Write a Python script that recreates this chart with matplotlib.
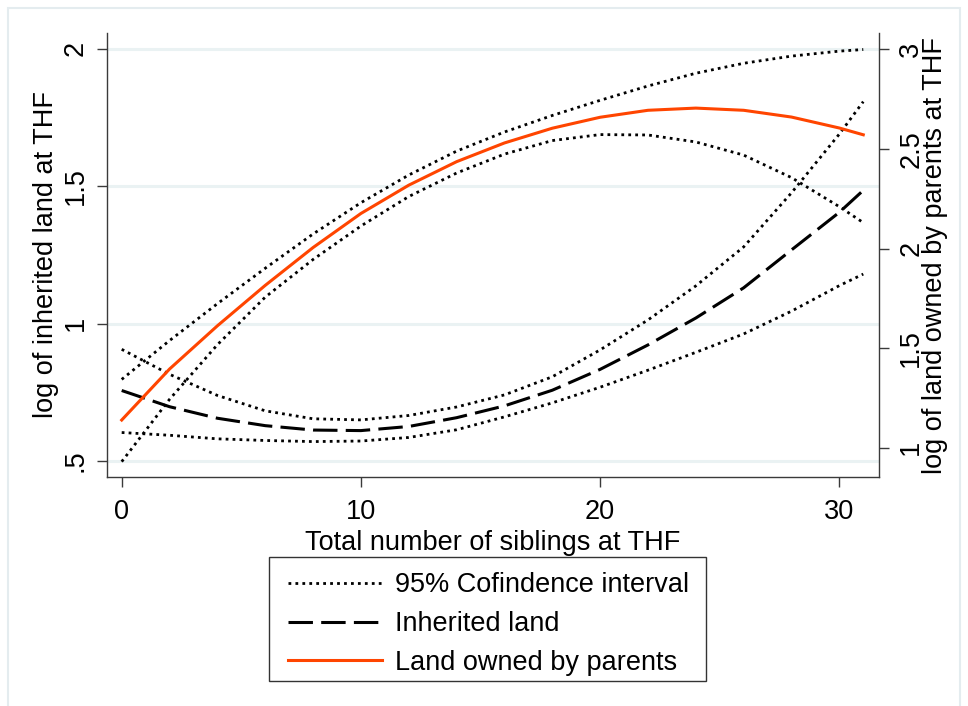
import matplotlib
matplotlib.use('Agg')
import matplotlib.pyplot as plt
from matplotlib.patches import Rectangle

plt.rcParams['font.family'] = ['Liberation Sans', 'DejaVu Sans']

# ---- data ----
siblings = [0, 2, 4, 6, 8, 10, 12, 14, 16, 18, 20, 22, 24, 26, 28, 30, 31]

inherited = [0.756, 0.697, 0.655, 0.628, 0.612, 0.610, 0.625, 0.657, 0.700,
             0.757, 0.833, 0.922, 1.020, 1.130, 1.268, 1.405, 1.485]
inherited_hi = [0.906, 0.815, 0.738, 0.682, 0.653, 0.649, 0.665, 0.696, 0.740,
                0.806, 0.904, 1.013, 1.137, 1.279, 1.476, 1.690, 1.808]
inherited_lo = [0.603, 0.593, 0.580, 0.574, 0.570, 0.572, 0.585, 0.613, 0.660,
                0.711, 0.768, 0.830, 0.895, 0.962, 1.045, 1.138, 1.180]

parents = [1.139, 1.395, 1.612, 1.815, 2.005, 2.176, 2.318, 2.436, 2.530,
           2.604, 2.659, 2.694, 2.705, 2.694, 2.660, 2.605, 2.571]
parents_hi = [1.343, 1.538, 1.723, 1.901, 2.073, 2.230, 2.369, 2.489, 2.585,
              2.668, 2.744, 2.816, 2.880, 2.930, 2.966, 2.991, 2.999]
parents_lo = [0.930, 1.243, 1.517, 1.756, 1.945, 2.113, 2.261, 2.379, 2.474,
              2.542, 2.572, 2.570, 2.535, 2.469, 2.356, 2.210, 2.130]

x_ticks = [0, 10, 20, 30]
x_ticklabels = ['0', '10', '20', '30']
left_ticks = [0.5, 1.0, 1.5, 2.0]
left_ticklabels = ['.5', '1', '1.5', '2']
right_ticks = [1.0, 1.5, 2.0, 2.5, 3.0]
right_ticklabels = ['1', '1.5', '2', '2.5', '3']

legend_labels = ['95% Cofindence interval', 'Inherited land', 'Land owned by parents']

# ---- figure ----
W, H = 968, 706
fig = plt.figure(figsize=(W / 100, H / 100), dpi=100)
fig.patch.set_facecolor('white')

# light outer frame (Stata graph region)
fig.add_artist(Rectangle((8 / W, -0.05), (960 - 8) / W, 1.05 - 8 / H,
                         transform=fig.transFigure, fill=False,
                         edgecolor='#e4ecef', lw=1.5, clip_on=False))

L, R, T, B = 106.7, 879.3, 33, 477
ax = fig.add_axes([L / W, 1 - B / H, (R - L) / W, (B - T) / H])
ax2 = ax.twinx()

FS = 19.5
axis_col = '#3a3a3a'
dot_style = (0, (1, 1.5))
dash_style = (0, (8, 2.7))
orange = '#ff4500'

# left axis: inherited land
ax.plot(siblings, inherited_hi, color='black', lw=2.0, linestyle=dot_style, zorder=3)
ax.plot(siblings, inherited_lo, color='black', lw=2.0, linestyle=dot_style, zorder=3)
ln_inh, = ax.plot(siblings, inherited, color='black', lw=2.2, linestyle=dash_style, zorder=3)

# right axis: land owned by parents
ln_ci, = ax2.plot(siblings, parents_hi, color='black', lw=2.0, linestyle=dot_style, zorder=3)
ax2.plot(siblings, parents_lo, color='black', lw=2.0, linestyle=dot_style, zorder=3)
ln_par, = ax2.plot(siblings, parents, color=orange, lw=2.2, zorder=4)

ax.set_xlim(-0.627, 31.67)
ax.set_ylim(0.441, 2.058)
ax2.set_ylim(0.853, 3.082)

ax.yaxis.grid(True, color='#eaf2f3', lw=2.2)
ax.set_axisbelow(True)

ax.set_xticks(x_ticks)
ax.set_xticklabels(x_ticklabels)
ax.set_yticks(left_ticks)
ax.set_yticklabels(left_ticklabels)
ax2.set_yticks(right_ticks)
ax2.set_yticklabels(right_ticklabels)

ax.tick_params(axis='x', direction='out', length=7.2, width=1, color=axis_col,
               pad=8.5, labelsize=FS)
ax.tick_params(axis='y', direction='out', length=7.2, width=1, color=axis_col,
               pad=5.8, labelsize=FS, labelrotation=90)
ax2.tick_params(axis='y', direction='out', length=7.2, width=1, color=axis_col,
                pad=6.5, labelsize=FS, labelrotation=90)
for lab in ax.get_yticklabels() + ax2.get_yticklabels():
    lab.set_va('center')

for s in ['top', 'right']:
    ax.spines[s].set_visible(False)
for s in ['top', 'left', 'bottom']:
    ax2.spines[s].set_visible(False)
ax.spines['left'].set_color(axis_col)
ax.spines['bottom'].set_color(axis_col)
ax2.spines['right'].set_color(axis_col)
for sp in [ax.spines['left'], ax.spines['bottom'], ax2.spines['right']]:
    sp.set_linewidth(1.0)

ax.set_xlabel('Total number of siblings at THF', fontsize=FS, labelpad=4)
ax.set_ylabel('log of inherited land at THF', fontsize=FS)
ax.yaxis.set_label_coords(-0.0615, 0.5)
ax2.set_ylabel('log of land owned by parents at THF', fontsize=FS)
ax2.yaxis.set_label_coords(1.0555, 0.5)

# legend box drawn explicitly, entries placed inside it
fig.add_artist(Rectangle((269 / W, 1 - 681 / H), (706 - 269) / W, (681 - 557) / H,
                         transform=fig.transFigure, fill=False,
                         edgecolor='#333333', lw=1.0))
leg = fig.legend([ln_ci, ln_inh, ln_par], legend_labels,
                 loc='upper left', bbox_to_anchor=(288 / W, 1 - 572.5 / H),
                 frameon=False, fontsize=FS, handlelength=3.48,
                 handletextpad=0.48, labelspacing=0.47, borderpad=0,
                 borderaxespad=0)

fig.savefig('out.png', dpi=100, facecolor='white')
